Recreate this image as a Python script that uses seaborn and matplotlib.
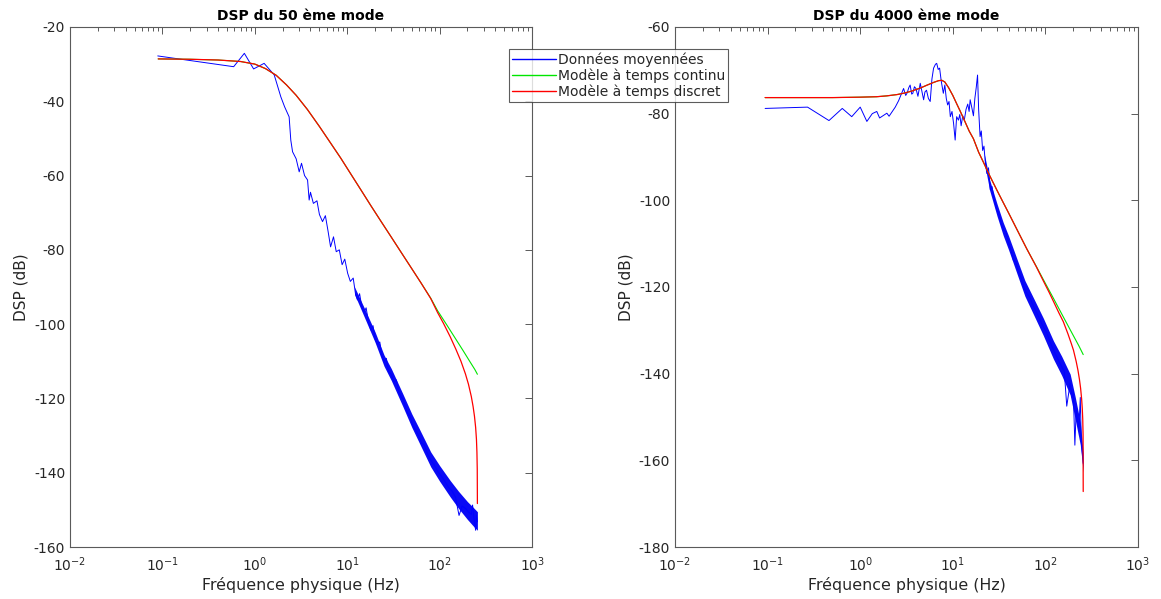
import numpy as np
import pandas as pd
import matplotlib
matplotlib.use("Agg")
import matplotlib.pyplot as plt
from matplotlib.lines import Line2D
from matplotlib.ticker import LogLocator
import seaborn as sns

# ----- Data -----
# left panel : mode 50
blue_f_L = [0.089, 0.59, 0.77, 0.97, 1.26, 1.62, 1.91, 2.1, 2.35, 2.45, 2.56, 2.8, 3.02, 3.2,
            3.45, 3.72, 3.87, 4.0, 4.3, 4.7, 5.0, 5.4, 5.8, 6.2, 6.6, 7.1, 7.6, 8.2, 8.8, 9.4,
            10.1, 10.8, 11.6, 12.3, 12.9, 13.6, 14.4, 15.2, 16.0, 17.0, 18.0, 19.0, 20.0, 21.3,
            22.5, 23.7, 25.0, 26.5, 28.0, 30.0, 32.0, 34.0, 36.0, 38.0, 40.5, 43.0, 45.0, 48.0,
            51.0, 55.0, 59.0, 63.0, 68.0, 74.0, 80.0, 87.0, 95.0, 105, 115, 125, 135, 148, 162,
            175, 190, 205, 220, 227, 235, 245, 250, 256]
blue_db_L = [-27.8, -30.7, -27.1, -31.3, -29.8, -32.9, -38.8, -41.5, -44.2, -50.5, -53.6, -55.5,
             -59.0, -56.7, -60.0, -61.2, -66.6, -64.5, -67.5, -66.8, -70.5, -72.4, -70.8, -75.0,
             -79.2, -76.5, -80.5, -80.0, -84.0, -82.5, -86.3, -88.5, -87.6, -92.0, -93.5, -91.8,
             -95.5, -96.8, -95.6, -99.5, -101.6, -100.4, -104.0, -105.5, -104.8, -108.5, -110.0,
             -109.2, -112.8, -113.5, -115.6, -115.0, -118.2, -119.5, -120.3, -122.6, -124.0,
             -124.8, -127.2, -128.5, -130.0, -131.8, -132.5, -135.0, -136.6, -137.8, -139.6,
             -141.0, -142.5, -144.0, -144.8, -146.5, -151.5, -149.0, -149.6, -150.6, -151.2,
             -148.7, -152.4, -155.5, -151.5, -153.2]
band_f_L = [12, 15, 20, 25, 30, 40, 50, 60, 80, 100, 130, 160, 200, 230, 256]
band_lo_L = [-92.0, -97.6, -104.9, -111.3, -115.2, -122.2, -127.8, -131.9, -138.4, -142.3,
             -146.5, -149.6, -152.6, -154.3, -155.5]
band_hi_L = [-90.0, -95.2, -102.1, -108.3, -112.0, -118.8, -124.2, -128.1, -134.4, -138.1,
             -142.1, -145.0, -147.8, -149.3, -150.5]

red_f_L = [0.09, 0.2, 0.4, 0.7, 1.0, 1.3, 1.7, 2.2, 2.8, 3.7, 5.0, 6.5, 8.5, 11, 14, 18, 23,
           30, 40, 50, 62.8, 80, 95, 110, 130, 150, 170, 190, 205, 220, 230, 238, 245, 250,
           253, 255, 256]
red_db_L = [-28.6, -28.7, -28.9, -29.3, -30.0, -31.2, -33.0, -35.6, -38.4, -42.2, -46.8, -51.0,
            -55.3, -59.7, -63.8, -68.1, -72.2, -76.6, -81.4, -85.1, -88.9, -93.1, -96.9, -99.8,
            -103.4, -106.8, -110.0, -113.4, -116.2, -119.5, -122.2, -124.8, -127.8, -131.0,
            -134.5, -139.0, -148.3]
green_f_L = [0.09, 0.2, 0.4, 0.7, 1.0, 1.3, 1.7, 2.2, 2.8, 3.7, 5.0, 6.5, 8.5, 11, 14, 18, 23,
             30, 40, 50, 62.8, 80, 95, 120, 150, 180, 210, 240, 256]
green_db_L = [-28.6, -28.7, -28.9, -29.3, -30.0, -31.2, -33.0, -35.6, -38.4, -42.2, -46.8, -51.0,
              -55.3, -59.7, -63.8, -68.1, -72.2, -76.6, -81.4, -85.1, -88.9, -93.0, -96.4,
              -100.3, -104.1, -107.2, -109.9, -112.2, -113.5]

# right panel : mode 4000
blue_f_R = [0.094, 0.27, 0.46, 0.64, 0.81, 1.0, 1.18, 1.35, 1.51, 1.62, 1.94, 2.05, 2.39, 2.6,
            2.94, 3.1, 3.2, 3.35, 3.46, 3.6, 3.7, 3.85, 4.0, 4.2, 4.45, 4.6, 4.84, 5.0, 5.2, 5.45,
            5.7, 5.95, 6.2, 6.5, 6.7, 6.95, 7.2, 7.5, 7.9, 8.2, 8.5, 8.8, 9.1, 9.4, 9.8, 10.2,
            10.6, 11.0, 11.5, 11.9, 12.3, 12.8, 13.3, 13.9, 14.5, 15.0, 15.4, 16.0, 16.7, 17.3,
            17.9, 18.5, 19.0, 19.7, 20.3, 21.0, 21.7, 22.3, 23.3, 24.3, 25.4, 26.5, 27.8, 29.8,
            31.5, 33.5, 35.3, 37.5, 40, 42.5, 45, 48, 51, 55, 58, 63, 68, 74.5, 80, 87, 95, 103,
            112, 122, 132, 145, 160, 170, 185, 195, 200, 208, 215, 222, 230, 238, 244, 250, 256]
blue_db_R = [-78.8, -78.5, -81.6, -78.8, -80.7, -78.5, -81.8, -80.0, -79.5, -81.0, -79.9, -80.6,
             -78.5, -77.0, -74.2, -75.8, -75.3, -74.0, -73.4, -75.5, -75.3, -73.8, -74.2, -76.0,
             -73.0, -74.5, -76.8, -75.0, -74.6, -76.5, -77.2, -72.0, -69.5, -68.6, -68.4, -69.8,
             -69.5, -72.5, -75.3, -73.4, -76.5, -78.0, -77.2, -80.7, -79.5, -82.3, -86.1, -80.7,
             -81.5, -80.2, -82.8, -80.5, -81.5, -79.0, -77.8, -79.5, -76.8, -78.5, -80.5, -76.5,
             -74.0, -71.1, -79.0, -85.3, -84.0, -88.5, -87.5, -90.7, -93.8, -92.5, -97.6, -96.8,
             -99.5, -102.2, -103.2, -105.5, -106.8, -107.2, -109.8, -111.5, -113.8, -114.2,
             -116.4, -118.0, -119.9, -121.5, -122.4, -124.5, -125.8, -127.5, -129.2, -130.5,
             -132.6, -134.5, -136.0, -137.8, -139.5, -147.5, -142.2, -145.5, -144.0, -156.5,
             -148.5, -151.0, -152.6, -145.5, -155.5, -158.0, -160.7]
band_f_R = [22, 25, 30, 35, 40, 50, 60, 75, 95, 122, 150, 185, 210, 238, 256]
band_lo_R = [-91.5, -97.7, -103.6, -108.1, -111.4, -117.3, -122.1, -126.5, -131.2, -136.6,
             -140.4, -144.9, -150.6, -156.4, -162.7]
band_hi_R = [-89.5, -95.3, -100.8, -105.1, -108.2, -113.9, -118.5, -122.7, -127.2, -132.4,
             -136.0, -140.1, -145.4, -151.2, -158.3]

red_f_R = [0.094, 0.5, 1.0, 1.5, 1.94, 2.5, 2.94, 3.6, 4.45, 5.3, 6.2, 7.0, 7.6, 8.2, 9.0, 10,
           11, 12, 13.5, 15, 16.7, 19, 21.5, 25, 30, 35, 40, 50, 62.9, 80, 95, 110, 122, 140,
           156, 175, 190, 201, 215, 225, 233, 240, 246, 250, 253, 255, 256]
red_db_R = [-76.3, -76.3, -76.2, -76.1, -75.9, -75.6, -75.3, -74.8, -74.1, -73.4, -72.8, -72.4,
            -72.3, -72.7, -74.0, -75.8, -77.7, -79.4, -81.8, -84.0, -85.8, -88.9, -91.3, -94.3,
            -97.7, -100.5, -102.9, -107.0, -111.2, -115.4, -118.6, -121.3, -123.3, -126.0,
            -128.0, -130.8, -133.0, -134.6, -137.2, -139.3, -141.3, -143.4, -145.8, -148.0,
            -150.5, -154.0, -167.2]
green_f_R = [0.094, 0.5, 1.0, 1.5, 1.94, 2.5, 2.94, 3.6, 4.45, 5.3, 6.2, 7.0, 7.6, 8.2, 9.0, 10,
             11, 12, 13.5, 15, 16.7, 19, 21.5, 25, 30, 35, 40, 50, 62.9, 80, 95, 122, 156, 200,
             230, 256]
green_db_R = [-76.3, -76.3, -76.2, -76.1, -75.9, -75.6, -75.3, -74.8, -74.1, -73.4, -72.8, -72.4,
              -72.3, -72.7, -74.0, -75.8, -77.7, -79.4, -81.8, -84.0, -85.8, -88.9, -91.3, -94.3,
              -97.7, -100.5, -102.9, -107.0, -111.2, -115.3, -118.3, -122.6, -126.9, -131.2,
              -133.6, -135.6]

titles = ["DSP du 50 ème mode", "DSP du 4000 ème mode"]
labels = ["Données moyennées", "Modèle à temps continu", "Modèle à temps discret"]
ylims = [(-160, -20), (-180, -60)]
# -------------------------------------

sns.set_style("white")
plt.rcParams["font.family"] = ["DejaVu Sans"]
plt.rcParams["axes.unicode_minus"] = False

blue_c, green_c, red_c = "#0000ff", "#00e600", "#ff0000"
axis_col = "#5a5a5a"
text_col = "#262626"

fig = plt.figure(figsize=(11.61, 5.99), dpi=100)
axL = fig.add_axes([0.0603, 0.0868, 0.398, 0.8682])
axR = fig.add_axes([0.5814, 0.0868, 0.3988, 0.8682])

panels = [
    (axL, blue_f_L, blue_db_L, band_f_L, band_lo_L, band_hi_L, green_f_L, green_db_L, red_f_L, red_db_L),
    (axR, blue_f_R, blue_db_R, band_f_R, band_lo_R, band_hi_R, green_f_R, green_db_R, red_f_R, red_db_R),
]

for i, (ax, bf, bd, nf, nlo, nhi, gf, gd, rf, rd) in enumerate(panels):
    # dense noisy part of the averaged spectrum
    ax.fill_between(nf, nlo, nhi, color="#0a0af5", lw=0)
    sns.lineplot(x=bf, y=bd, ax=ax, color=blue_c, lw=0.7, sort=False)
    sns.lineplot(x=gf, y=gd, ax=ax, color=green_c, lw=0.8, sort=False)
    sns.lineplot(x=rf, y=rd, ax=ax, color=red_c, lw=0.9, sort=False)

    ax.set_xscale("log")
    ax.set_xlim(1e-2, 1e3)
    ax.set_ylim(*ylims[i])
    ax.xaxis.set_major_locator(LogLocator(base=10, numticks=10))
    ax.xaxis.set_minor_locator(LogLocator(base=10, subs=np.arange(2, 10), numticks=20))
    ax.set_yticks(np.arange(ylims[i][0], ylims[i][1] + 1, 20))

    ax.tick_params(which="both", top=True, right=True, direction="in",
                   color=axis_col, labelcolor=text_col, labelsize=10, width=0.7)
    ax.tick_params(which="major", length=5)
    ax.tick_params(which="minor", length=3)
    ax.tick_params(axis="x", pad=6)
    for sp in ax.spines.values():
        sp.set_color(axis_col)
        sp.set_linewidth(0.8)

    ax.set_title(titles[i], fontsize=10, fontweight="bold", color="black", pad=5)
    ax.set_xlabel("Fréquence physique (Hz)", fontsize=11.4, color=text_col, labelpad=2)
    ax.set_ylabel("DSP (dB)", fontsize=11, color=text_col)

handles = [Line2D([], [], color=blue_c, lw=1.0),
           Line2D([], [], color=green_c, lw=1.0),
           Line2D([], [], color=red_c, lw=1.0)]
leg = fig.legend(handles, labels, loc="upper left", bbox_to_anchor=(0.4385, 0.9175),
                 frameon=True, fancybox=False, fontsize=10, handlelength=3.2,
                 handletextpad=0.15, borderpad=0.2, labelspacing=0.12, borderaxespad=0)
leg.get_frame().set_edgecolor("#333333")
leg.get_frame().set_linewidth(0.8)
for t in leg.get_texts():
    t.set_color(text_col)

fig.savefig("out.png", dpi=100)
